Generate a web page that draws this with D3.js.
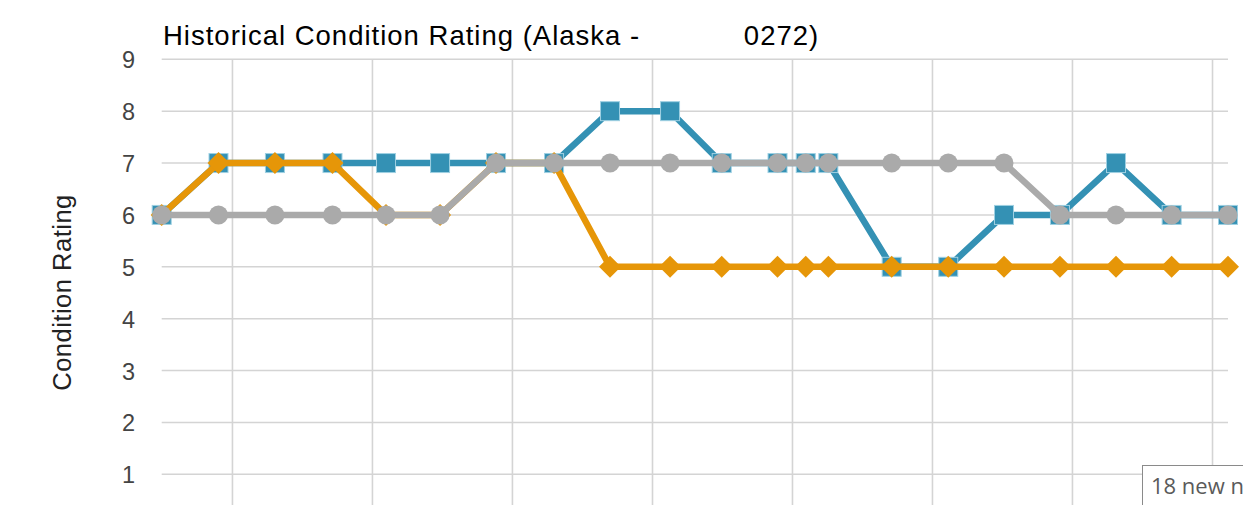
<!DOCTYPE html>
<html>
<head>
<meta charset="utf-8">
<script src="https://cdn.jsdelivr.net/npm/d3@7"></script>
<style>
  html, body { margin: 0; padding: 0; background: #ffffff; overflow: hidden; }
  svg { display: block; }
</style>
</head>
<body>
<svg id="chart" width="1243" height="505"></svg>
<script>
// ---- data ----
const inspectionDates = ["1987-06-23","1989-07-03","1991-07-09","1993-07-29","1995-06-27","1997-06-01",
  "1999-06-01","2001-06-27","2003-06-27","2005-08-18","2007-06-23","2009-06-20","2010-06-23",
  "2011-04-14","2013-07-18","2015-07-26","2017-07-22","2019-07-22","2021-07-22","2023-07-18","2025-07-22"];
const deckRatings           = [6,7,7,7,7,7,7,7,8,8,7,7,7,7,5,5,6,6,7,6,6];
const superstructureRatings = [6,7,7,7,6,6,7,7,5,5,5,5,5,5,5,5,5,5,5,5,5];
const substructureRatings   = [6,6,6,6,6,6,7,7,7,7,7,7,7,7,7,7,7,6,6,6,6];
const yTickValues = [1,2,3,4,5,6,7,8,9];
const chartTitle = "Historical Condition Rating (Alaska -            0272)";
const yAxisTitle = "Condition Rating";
const noticeText = "18 new n";

// ---- layout ----
const svg = d3.select("#chart");
const parse = d3.utcParse("%Y-%m-%d");
const dates = inspectionDates.map(parse);

const x = d3.scaleUtc().domain(d3.extent(dates)).range([161.7, 1228]);
const y = d3.scaleLinear().domain([0, 9]).range([526.2, 59.3]);

// gridlines
const grid = svg.append("g");
grid.selectAll("line.h").data(yTickValues).join("line")
  .attr("x1", 161.7).attr("x2", 1228)
  .attr("y1", d => y(d)).attr("y2", d => y(d))
  .attr("stroke", "#d4d4d4").attr("stroke-width", 1.6);
grid.selectAll("line.v").data(x.ticks(d3.utcYear.every(5))).join("line")
  .attr("x1", d => x(d)).attr("x2", d => x(d))
  .attr("y1", y(9)).attr("y2", 540)
  .attr("stroke", "#d4d4d4").attr("stroke-width", 1.6);

// y axis labels via d3 axis
const yAxis = d3.axisLeft(y).tickValues(yTickValues).tickSize(0).tickPadding(0).tickFormat(d3.format("d"));
const yg = svg.append("g").attr("transform", "translate(135,0)").call(yAxis);
yg.select(".domain").remove();
yg.selectAll("text")
  .attr("font-family", "'Liberation Sans', Arial, sans-serif")
  .attr("font-size", 23.5).attr("fill", "#444444").attr("dy", "0.36em");

// titles
svg.append("text")
  .attr("x", 163).attr("y", 45)
  .attr("xml:space", "preserve").style("white-space", "pre")
  .attr("font-family", "'Liberation Sans', Arial, sans-serif")
  .attr("font-size", 27.5).attr("letter-spacing", 1).attr("fill", "#000000")
  .text(chartTitle);

svg.append("text")
  .attr("transform", "translate(71,292.5) rotate(-90)")
  .attr("text-anchor", "middle")
  .attr("font-family", "'Liberation Sans', Arial, sans-serif")
  .attr("font-size", 25.5).attr("letter-spacing", 0.5).attr("fill", "#222222")
  .text(yAxisTitle);

// series
const series = [
  { name: "Deck", values: deckRatings, color: "#3491b4", symbol: "square" },
  { name: "Superstructure", values: superstructureRatings, color: "#e69608", symbol: "diamond" },
  { name: "Substructure", values: substructureRatings, color: "#aaaaaa", symbol: "circle" }
];

const line = d3.line().x(d => x(d.date)).y(d => y(d.value));

series.forEach(s => {
  const pts = dates.map((d, i) => ({ date: d, value: s.values[i] }));
  const g = svg.append("g");
  g.append("path").datum(pts)
    .attr("d", line).attr("fill", "none")
    .attr("stroke", s.color).attr("stroke-width", 6.5)
    .attr("stroke-linejoin", "round");
  if (s.symbol === "square") {
    g.selectAll("rect").data(pts).join("rect")
      .attr("x", d => x(d.date) - 9.5).attr("y", d => y(d.value) - 9.5)
      .attr("width", 19).attr("height", 19)
      .attr("fill", s.color).attr("stroke", "#9fd0e2").attr("stroke-width", 1);
  } else if (s.symbol === "diamond") {
    g.selectAll("path.m").data(pts).join("path").attr("class", "m")
      .attr("d", d => {
        const cx = x(d.date), cy = y(d.value), r = 11;
        return `M${cx},${cy - r}L${cx + r},${cy}L${cx},${cy + r}L${cx - r},${cy}Z`;
      })
      .attr("fill", s.color);
  } else {
    g.selectAll("circle").data(pts).join("circle")
      .attr("cx", d => x(d.date)).attr("cy", d => y(d.value)).attr("r", 9.5)
      .attr("fill", s.color);
  }
});

// notice box (bottom right)
svg.append("rect")
  .attr("x", 1142.5).attr("y", 465.5).attr("width", 120).attr("height", 60)
  .attr("fill", "#ffffff").attr("stroke", "#8a8a8a").attr("stroke-width", 1);
svg.append("text")
  .attr("x", 1151).attr("y", 494)
  .attr("font-family", "'Open Sans', 'Noto Sans', sans-serif")
  .attr("font-size", 22).attr("fill", "#5a5a5a")
  .text(noticeText);
</script>
</body>
</html>
